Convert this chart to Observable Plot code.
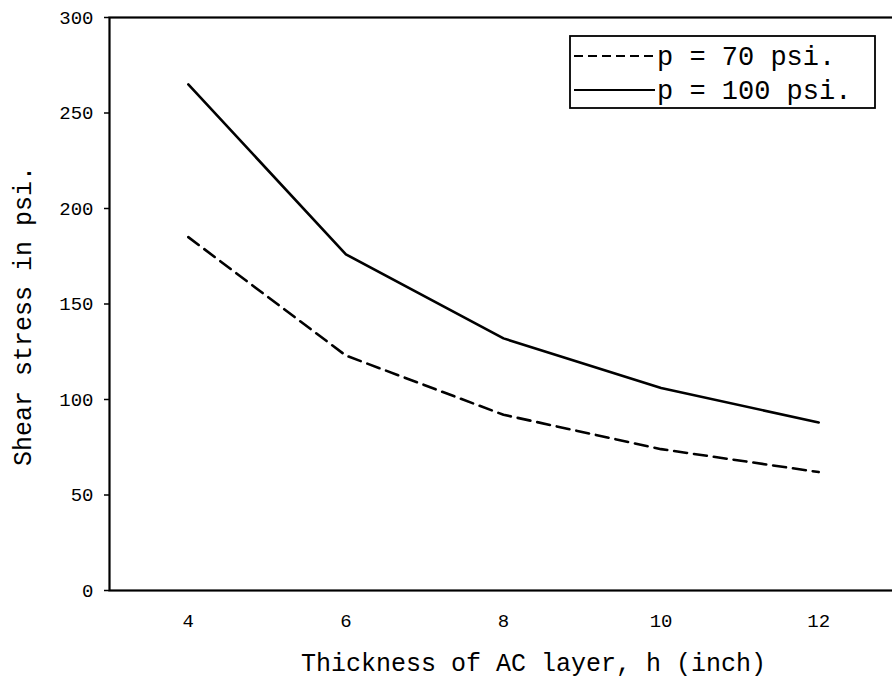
<!DOCTYPE html>
<html>
<head>
<meta charset="utf-8">
<script src="https://cdn.jsdelivr.net/npm/d3@7"></script>
<script src="https://cdn.jsdelivr.net/npm/@observablehq/plot@0.6"></script>
<style>
  html, body { margin: 0; padding: 0; background: #fff; overflow: hidden; width: 892px; height: 691px; }
  #chart { position: relative; width: 892px; height: 691px; overflow: hidden; }
  #chart svg { max-width: none !important; display: block; }
</style>
</head>
<body>
<div id="chart"></div>
<script>
// ---- data ----
const thickness = [4, 6, 8, 10, 12];
const stress70 = [185, 123, 92, 74, 62];
const stress100 = [265, 176, 132, 106, 88];
const seriesNames = ["p = 70 psi.", "p = 100 psi."];
const xTicks = [4, 6, 8, 10, 12];
const yTicks = [0, 50, 100, 150, 200, 250, 300];
const xLabel = "Thickness of AC layer, h (inch)";
const yLabel = "Shear stress in psi.";

const rows70 = thickness.map((h, i) => ({h, s: stress70[i]}));
const rows100 = thickness.map((h, i) => ({h, s: stress100[i]}));

const FONT = "'Liberation Mono', 'Courier New', 'DejaVu Sans Mono', monospace";

const chart = Plot.plot({
  width: 900,
  height: 691,
  marginLeft: 109,
  marginRight: 3,
  marginTop: 17,
  marginBottom: 101,
  style: {fontFamily: FONT, background: "#fff", color: "#000", maxWidth: "none"},
  x: {domain: [3, 13]},
  y: {domain: [0, 300]},
  marks: [
    Plot.axisY({ticks: yTicks, tickSize: 5, tickPadding: 11, fontSize: 19, label: null, strokeWidth: 1.5}),
    Plot.axisX({ticks: xTicks, tickSize: 0, tickPadding: 23, fontSize: 19, label: null}),
    Plot.line(rows70, {x: "h", y: "s", stroke: "#000", strokeWidth: 2.6, strokeDasharray: "13,7"}),
    Plot.line(rows100, {x: "h", y: "s", stroke: "#000", strokeWidth: 2.6}),
    Plot.frame({stroke: "#000", strokeWidth: 2.2}),
    Plot.text([xLabel], {frameAnchor: "bottom", dx: 30, dy: 80, fontSize: 25, fill: "#000"}),
    Plot.text([yLabel], {frameAnchor: "left", textAnchor: "middle", lineAnchor: "middle", rotate: -90, dx: -87, dy: 12, fontSize: 25, fill: "#000"})
  ]
});

document.getElementById("chart").appendChild(chart);

// ---- legend (in the plot's svg) ----
const svg = d3.select(chart);
const lg = svg.append("g").attr("font-family", FONT).attr("text-anchor", "start");
lg.append("rect")
  .attr("x", 570).attr("y", 36).attr("width", 305).attr("height", 72)
  .attr("fill", "#fff").attr("stroke", "#000").attr("stroke-width", 1.8);
const dashes = ["9,5", null];
seriesNames.forEach((name, i) => {
  const cy = 56 + i * 34;
  lg.append("line")
    .attr("x1", 574).attr("x2", 655).attr("y1", cy).attr("y2", cy)
    .attr("stroke", "#000").attr("stroke-width", 2.2)
    .attr("stroke-dasharray", dashes[i]);
  lg.append("text")
    .attr("x", 657).attr("y", cy).attr("dy", "0.35em")
    .attr("text-anchor", "start")
    .attr("font-size", 27).attr("fill", "#000")
    .text(name);
});
</script>
</body>
</html>
